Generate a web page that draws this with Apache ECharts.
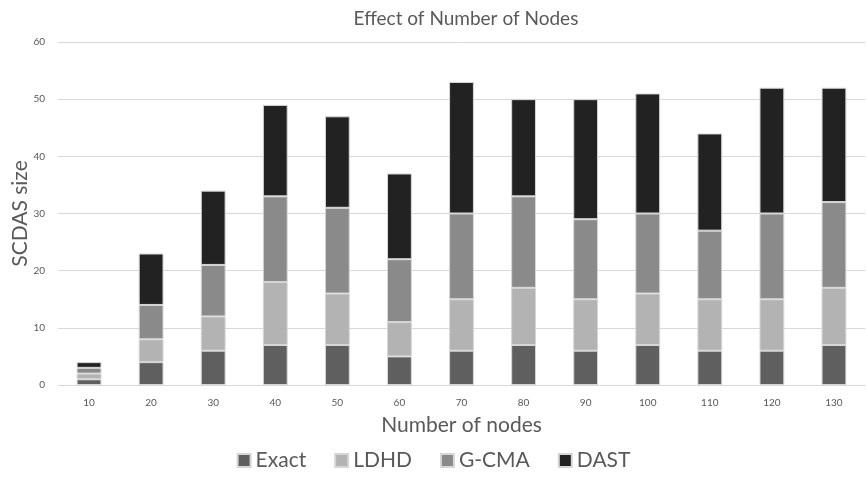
<!DOCTYPE html>
<html>
<head>
<meta charset="utf-8">
<script src="https://cdn.jsdelivr.net/npm/echarts@6/dist/echarts.min.js"></script>
<style>
  html, body { margin: 0; padding: 0; background: #fff; }
  #chart { width: 867px; height: 486px; }
</style>
</head>
<body>
<div id="chart"></div>
<script>
// node counts along the x axis
const nodeCounts = ["10", "20", "30", "40", "50", "60", "70", "80", "90", "100", "110", "120", "130"];

// stacked segment heights
const exactValues = [1, 4, 6, 7, 7, 5, 6, 7, 6, 7, 6, 6, 7];
const ldhdValues  = [1, 4, 6, 11, 9, 6, 9, 10, 9, 9, 9, 9, 10];
const gcmaValues  = [1, 6, 9, 15, 15, 11, 15, 16, 14, 14, 12, 15, 15];
const dastValues  = [1, 9, 13, 16, 16, 15, 23, 17, 21, 21, 17, 22, 20];

const seriesNames = ["Exact", "LDHD", "G-CMA", "DAST"];
const seriesColors = ["#5f5f5f", "#b3b3b3", "#8a8a8a", "#222222"];

const font = "Lato";
const textGray = "#595959";

const chart = echarts.init(document.getElementById("chart"), null, { renderer: "canvas" });

const makeSeries = (name, data, i) => ({
    name: name,
    type: "bar",
    stack: "total",
    data: data,
    barWidth: "40%",
    itemStyle: {
        color: seriesColors[i],
        borderColor: "#d6d6d6",
        borderWidth: 1
    }
});

chart.setOption({
    animation: false,
    backgroundColor: "#fff",
    textStyle: { fontFamily: font },
    title: {
        text: "Effect of Number of Nodes",
        left: 461,
        textAlign: "center",
        top: 4,
        textStyle: { fontFamily: font, fontSize: 19, fontWeight: "normal", color: textGray }
    },
    legend: {
        data: seriesNames,
        bottom: 10,
        left: "center",
        itemWidth: 13,
        itemHeight: 13,
        itemGap: 28,
        icon: "rect",
        textStyle: { fontFamily: font, fontSize: 21, color: textGray }
    },
    grid: { left: 58, right: 2, top: 42, bottom: 101, outerBoundsMode: "none" },
    xAxis: {
        type: "category",
        data: nodeCounts,
        name: "Number of nodes",
        nameLocation: "middle",
        nameGap: 30,
        nameMoveOverlap: false,
        nameTextStyle: { fontFamily: font, fontSize: 21, color: textGray },
        axisLine: { lineStyle: { color: "#d9d9d9" } },
        axisTick: { show: false },
        axisLabel: { fontFamily: font, fontSize: 10, color: textGray, margin: 13 }
    },
    yAxis: {
        type: "value",
        min: 0,
        max: 60,
        interval: 10,
        name: "SCDAS size",
        nameLocation: "middle",
        nameGap: 27,
        nameMoveOverlap: false,
        nameTextStyle: { fontFamily: font, fontSize: 21, color: textGray },
        axisLine: { show: false },
        axisTick: { show: false },
        axisLabel: { fontFamily: font, fontSize: 10, color: textGray, margin: 13 },
        splitLine: { lineStyle: { color: "#d9d9d9" } }
    },
    series: [
        makeSeries(seriesNames[0], exactValues, 0),
        makeSeries(seriesNames[1], ldhdValues, 1),
        makeSeries(seriesNames[2], gcmaValues, 2),
        makeSeries(seriesNames[3], dastValues, 3)
    ]
});
</script>
</body>
</html>
